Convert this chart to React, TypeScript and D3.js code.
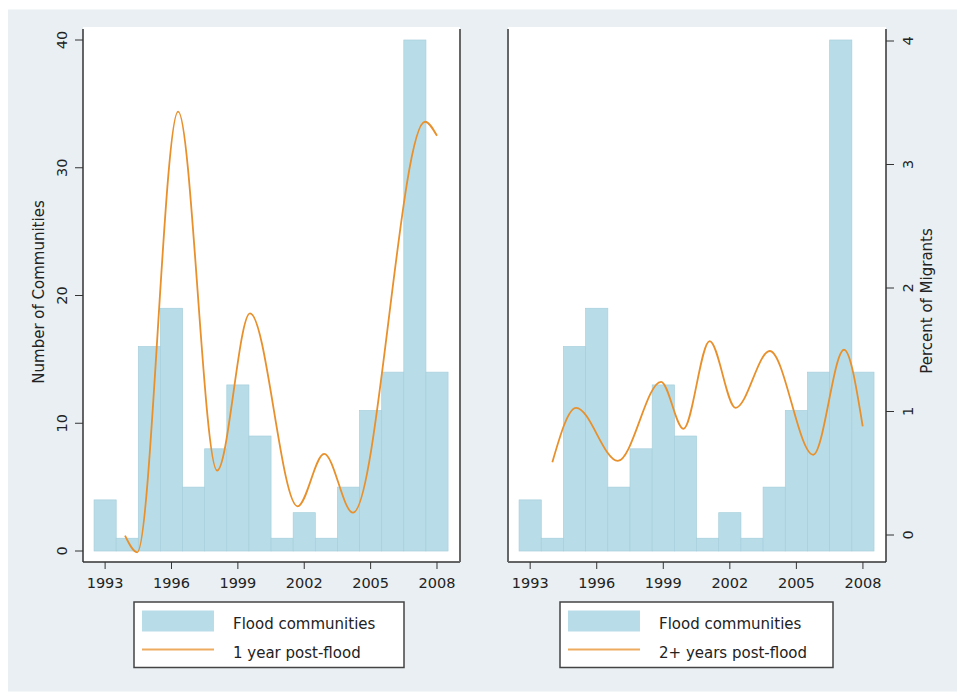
import React from "react";
import * as d3 from "d3";

const years = [1993, 1994, 1995, 1996, 1997, 1998, 1999, 2000, 2001, 2002, 2003, 2004, 2005, 2006, 2007, 2008];
const floodCommunities = [4, 1, 16, 19, 5, 8, 13, 9, 1, 3, 1, 5, 11, 14, 40, 14];

// 1 year post-flood (turning points, on the count axis)
const oneYearX = [1993.9, 1994.45, 1996.3, 1998.06, 1999.55, 2001.7, 2002.9, 2004.2, 2007.46, 2008.0];
const oneYearY = [1.2, -0.1, 34.4, 6.3, 18.6, 3.5, 7.6, 3.0, 33.6, 32.5];

// 2+ years post-flood (percent of migrants, right axis)
const twoYearX = [1994.0, 1995.07, 1996.95, 1998.9, 1999.91, 2001.09, 2002.26, 2003.8, 2005.76, 2007.15, 2007.99];
const twoYearY = [0.59, 1.03, 0.6, 1.24, 0.86, 1.57, 1.03, 1.49, 0.65, 1.5, 0.88];

const xTicks = [1993, 1996, 1999, 2002, 2005, 2008];
const countTicks = [0, 10, 20, 30, 40];
const pctTicks = [0, 1, 2, 3, 4];

const FONT = "DejaVu Sans, sans-serif";
const BAR = "#b9dde8";
const BAR_EDGE = "#a6cfdc";
const ORANGE = "#e8902c";
const AXIS = "#333";
const TXT = "#222";

const top = 27;
const axisTop = 29;
const bottom = 562;

type PanelProps = {
  x0: number;
  x1: number;
  lineX: number[];
  lineY: number[];
  lineScale: "count" | "pct";
  legendX: number;
  legendW: number;
  lineLabel: string;
};

function Panel({ x0, x1, lineX, lineY, lineScale, legendX, legendW, lineLabel }: PanelProps) {
  const x = d3.scaleLinear().domain([1992.0, 2009.04]).range([x0, x1]);
  const yc = d3.scaleLinear().domain([0, 40]).range([551, 40]);
  const yp = d3.scaleLinear().domain([0, 4]).range([535, 41]);
  const yl = lineScale === "count" ? yc : yp;
  const pts: [number, number][] = lineX.map((v, i) => [v, lineY[i]]);
  const line = d3
    .line<[number, number]>()
    .x((d) => x(d[0]))
    .y((d) => yl(d[1]))
    .curve(d3.curveMonotoneX);
  return (
    <g>
      <rect x={x0} y={top} width={x1 - x0} height={bottom - top} fill="#fff" />
      {years.map((yr, i) => (
        <rect
          key={yr}
          x={x(yr - 0.5)}
          y={yc(floodCommunities[i])}
          width={x(yr + 0.5) - x(yr - 0.5)}
          height={yc(0) - yc(floodCommunities[i])}
          fill={BAR}
          stroke={BAR_EDGE}
          strokeWidth={0.7}
        />
      ))}
      <path d={line(pts) || ""} fill="none" stroke={ORANGE} strokeWidth={1.8} />
      <line x1={x0} x2={x1} y1={bottom} y2={bottom} stroke={AXIS} strokeWidth={1.5} />
      <line x1={x0} x2={x0} y1={axisTop} y2={bottom} stroke={lineScale === "count" ? AXIS : "#666"} strokeWidth={lineScale === "count" ? 1.5 : 2} />
      <line x1={x1} x2={x1} y1={axisTop} y2={bottom} stroke={lineScale === "count" ? "#666" : AXIS} strokeWidth={lineScale === "count" ? 2 : 1.5} />
      {xTicks.map((t) => (
        <g key={t}>
          <line x1={x(t)} x2={x(t)} y1={bottom} y2={bottom + 7} stroke={AXIS} strokeWidth={1} />
          <text x={x(t)} y={588} textAnchor="middle" fontFamily={FONT} fontSize={14.5} fill={TXT}>
            {t}
          </text>
        </g>
      ))}
      {lineScale === "count" &&
        countTicks.map((t) => (
          <g key={t}>
            <line x1={x0 - 8} x2={x0} y1={yc(t)} y2={yc(t)} stroke={AXIS} strokeWidth={1} />
            <text transform={`translate(67,${yc(t)}) rotate(-90)`} textAnchor="middle" fontFamily={FONT} fontSize={14.5} fill={TXT}>
              {t}
            </text>
          </g>
        ))}
      {lineScale === "count" && (
        <text transform={`translate(44,292) rotate(-90)`} textAnchor="middle" fontFamily={FONT} fontSize={15} fill={TXT}>
          Number of Communities
        </text>
      )}
      {lineScale === "pct" &&
        pctTicks.map((t) => (
          <g key={t}>
            <line x1={x1} x2={x1 + 8} y1={yp(t)} y2={yp(t)} stroke={AXIS} strokeWidth={1} />
            <text transform={`translate(913,${yp(t)}) rotate(-90)`} textAnchor="middle" fontFamily={FONT} fontSize={14.5} fill={TXT}>
              {t}
            </text>
          </g>
        ))}
      {lineScale === "pct" && (
        <text transform={`translate(932,301) rotate(-90)`} textAnchor="middle" fontFamily={FONT} fontSize={15} fill={TXT}>
          Percent of Migrants
        </text>
      )}
      <rect x={legendX} y={602} width={legendW} height={65.5} fill="#fff" stroke="#444" strokeWidth={1.5} />
      <rect x={legendX + 8} y={610.5} width={72} height={21} fill={BAR} />
      <line x1={legendX + 8} x2={legendX + 80} y1={649.5} y2={649.5} stroke={ORANGE} strokeWidth={2} opacity={0.75} />
      <text x={legendX + 99} y={628.5} fontFamily={FONT} fontSize={15} fill={TXT}>
        Flood communities
      </text>
      <text x={legendX + 99} y={658} fontFamily={FONT} fontSize={15} fill={TXT}>
        {lineLabel}
      </text>
    </g>
  );
}

export default function App() {
  return (
    <svg width={966} height={698} style={{ position: "absolute", left: 0, top: 0 }}>
      <rect x={0} y={0} width={966} height={698} fill="#fff" />
      <rect x={8} y={9.5} width={949} height={682} fill="#e9eff2" />
      <Panel x0={83} x1={460} lineX={oneYearX} lineY={oneYearY} lineScale="count" legendX={134} legendW={270} lineLabel="1 year post-flood" />
      <Panel x0={508} x1={886} lineX={twoYearX} lineY={twoYearY} lineScale="pct" legendX={560} legendW={273} lineLabel="2+ years post-flood" />
    </svg>
  );
}
